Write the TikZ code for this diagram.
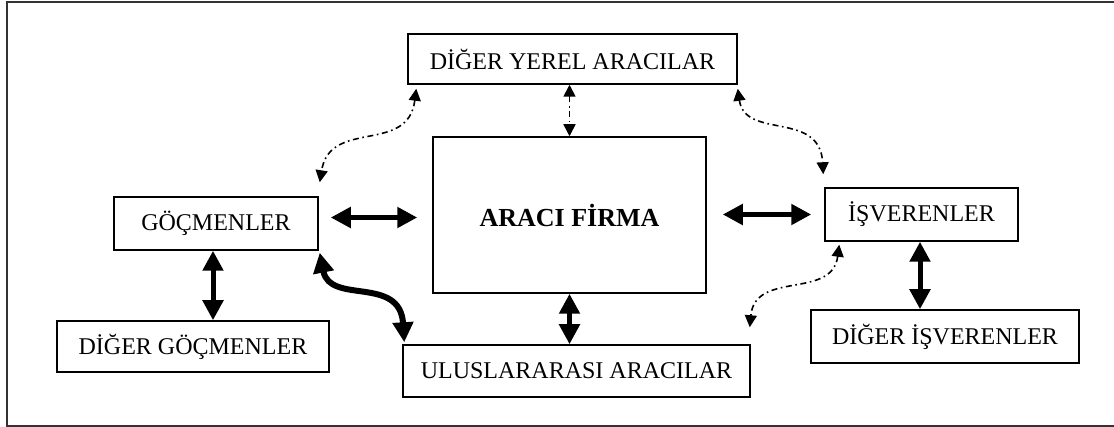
\documentclass[tikz,border=0pt]{standalone}
\usepackage{fontspec}
\setmainfont{Liberation Serif}
\usetikzlibrary{arrows.meta}

\tikzset{
	kutu/.style={draw, line width=0.75pt, inner sep=0pt, font=\fontsize{12}{14}\selectfont},
	kalin/.style={line width=2.5pt, {Triangle[length=10pt,width=10pt]}-{Triangle[length=10pt,width=10pt]}},
	noktali/.style={line width=0.8pt, dash pattern=on 3pt off 1.8pt on 0.8pt off 1.8pt, {Triangle[length=6pt,width=6pt]}-{Triangle[length=6pt,width=6pt]}}
}

\begin{document}
\begin{tikzpicture}[x=0.5pt,y=-0.5pt]
	\useasboundingbox (0,0) rectangle (1114,427);
	\draw[line width=1pt, black!80] (7,2) rectangle (1122,426);

	\node[kutu, minimum width=164.5pt, minimum height=25pt] (yerel) at (572.5,59) {DİĞER YEREL ARACILAR};
	\node[kutu, minimum width=136.5pt, minimum height=78pt, font=\fontsize{13}{15}\selectfont\bfseries] (araci) at (569.5,215) {ARACI FİRMA};
	\node[kutu, minimum width=102pt, minimum height=26.5pt] (goc) at (216,223.5) {GÖÇMENLER\hspace{11pt}};
	\node[kutu, minimum width=136pt, minimum height=25.5pt] (diggoc) at (193,346.5) {DİĞER GÖÇMENLER};
	\node[kutu, minimum width=173.5pt, minimum height=26pt] (ulus) at (576.5,371) {ULUSLARARASI ARACILAR};
	\node[kutu, minimum width=96.5pt, minimum height=26.5pt] (isv) at (921.5,214.5) {İŞVERENLER\hspace{6pt}};
	\node[kutu, minimum width=134pt, minimum height=26.5pt] (digisv) at (945,336.5) {DİĞER İŞVERENLER};

	\draw[kalin] ([xshift=6pt,yshift=3pt]goc.east) -- ([xshift=-7.5pt,yshift=3pt]goc.east -| araci.west);
	\draw[kalin] ([xshift=8pt]araci.east |- isv.west) -- ([xshift=-6.5pt]isv.west);
	\draw[kalin] ([xshift=-1.5pt]goc.south) -- ([xshift=-1.5pt]goc.south |- diggoc.north);
	\draw[kalin] (araci.south) -- (araci.south |- ulus.north);
	\draw[kalin] ([xshift=-0.75pt]isv.south) -- ([xshift=-0.75pt]isv.south |- digisv.north);
	\draw[kalin, line width=3pt] ([xshift=0.5pt,yshift=-1pt]goc.south east) .. controls (330,305) and (400,275) .. ([xshift=1pt,yshift=1pt]ulus.north west);

	\draw[noktali] (araci.north |- yerel.south) -- (araci.north);
	\draw[noktali] ([xshift=4.5pt,yshift=-2pt]yerel.south west) .. controls (408,155) and (330,118) .. ([xshift=0.5pt,yshift=7pt]goc.north east);
	\draw[noktali] ([yshift=-2pt]yerel.south east) .. controls (745,140) and (820,110) .. ([xshift=-0.5pt,yshift=6.5pt]isv.north west);
	\draw[noktali] ([xshift=7.5pt,yshift=-1.5pt]isv.south west) .. controls (832,300) and (755,270) .. ([xshift=-0.5pt,yshift=8.5pt]ulus.north east);
\end{tikzpicture}
\end{document}
